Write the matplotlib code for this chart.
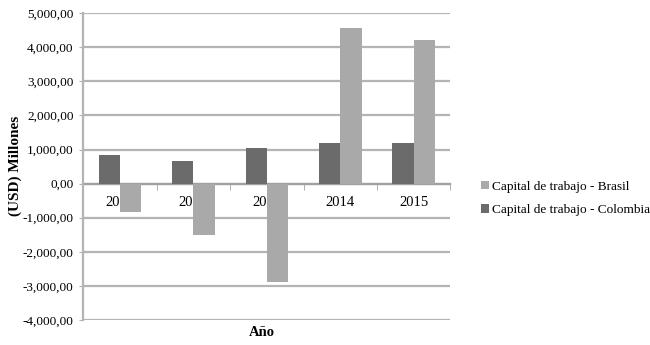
import matplotlib.pyplot as plt
import numpy as np
from matplotlib.ticker import FuncFormatter

years = ["2011", "2012", "2013", "2014", "2015"]
brasil = [-820, -1500, -2900, 4560, 4220]
colombia = [850, 670, 1030, 1200, 1200]

plt.rcParams['font.family'] = ['Liberation Serif', 'DejaVu Serif']


def fmt(v, pos):
    s = "{:,.2f}".format(v)
    return s.replace(".", ",")


def main():
    fig = plt.figure(figsize=(6.5, 3.45), dpi=100)
    ax = fig.add_axes([0.128, 0.0725, 0.565, 0.8895])
    x = np.arange(len(years))
    w = 0.29
    ax.bar(x - w / 2, colombia, w, color="#6b6b6b", zorder=3,
           label="Capital de trabajo - Colombia")
    ax.bar(x + w / 2, brasil, w, color="#a9a9a9", zorder=3,
           label="Capital de trabajo - Brasil")

    ax.set_xlim(-0.5, len(years) - 0.5)
    ax.set_ylim(-4000, 5000)
    ax.set_yticks(np.arange(-4000, 5001, 1000))
    ax.yaxis.set_major_formatter(FuncFormatter(fmt))
    ax.grid(axis="y", color="#b4b4b4", linewidth=1.6)
    ax.set_axisbelow(True)

    ax.spines["top"].set_visible(False)
    ax.spines["right"].set_visible(False)
    ax.spines["left"].set_color("#b4b4b4")
    ax.spines["left"].set_linewidth(1.6)
    ax.spines["bottom"].set_position(("data", 0))
    ax.spines["bottom"].set_color("#a0a0a0")
    ax.spines["bottom"].set_linewidth(1.6)
    ax.spines["bottom"].set_zorder(1)

    ax.set_xticks(x)
    ax.set_xticklabels(years)
    ax.set_xticks(np.arange(-0.5, len(years)), minor=True)
    ax.tick_params(axis="x", which="major", length=0, pad=9, labelsize=10.5)
    ax.tick_params(axis="x", which="minor", length=4, color="#a0a0a0")
    ax.tick_params(axis="y", length=3, color="#b4b4b4", labelsize=9.5, pad=4)
    ax.xaxis.set_zorder(2)

    fig.text(0.024, 0.52, "(USD) Millones", fontweight="bold", fontsize=11,
             rotation=90, ha="center", va="center")
    fig.text(0.403, 0.035, "Año", fontweight="bold", fontsize=10.5, ha="center", va="center")

    handles, labels = ax.get_legend_handles_labels()
    fig.legend(handles[::-1], labels[::-1], loc="center left",
               bbox_to_anchor=(0.74, 0.425), frameon=False, fontsize=9.5,
               handlelength=0.6, handleheight=0.6, handletextpad=0.25,
               labelspacing=0.85, borderpad=0, borderaxespad=0)

    fig.savefig("out.png", dpi=100)


if __name__ == "__main__":
    main()
